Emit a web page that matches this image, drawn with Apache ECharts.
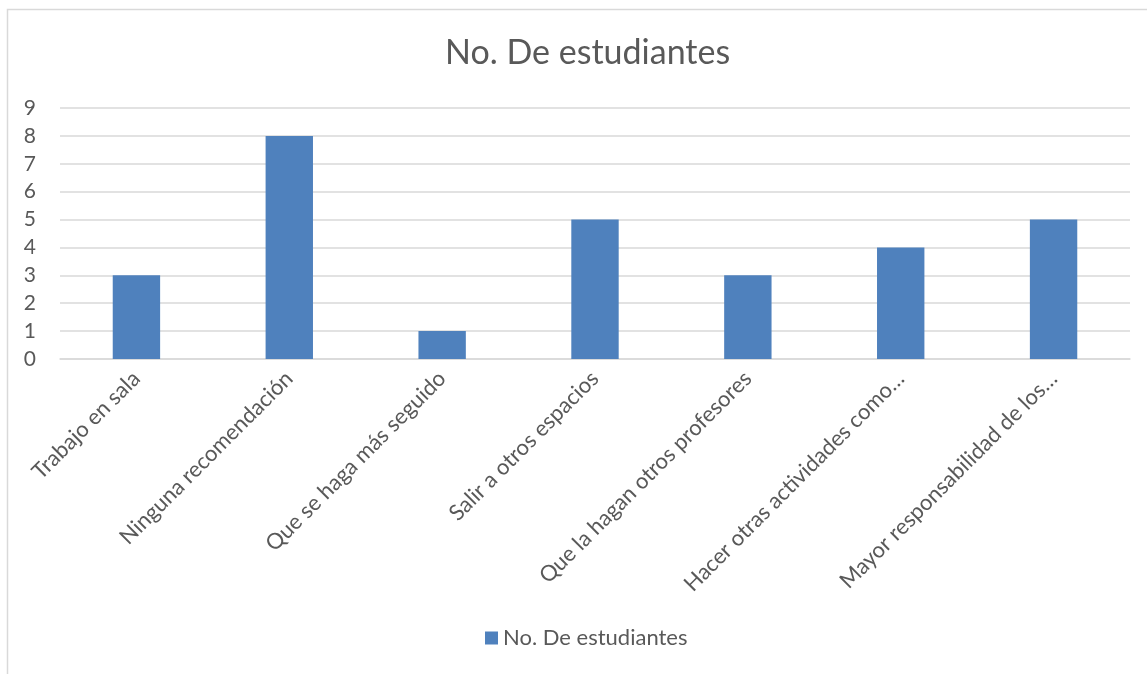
<!DOCTYPE html>
<html>
<head>
<meta charset="utf-8">
<script src="https://cdn.jsdelivr.net/npm/echarts@6/dist/echarts.min.js"></script>
<style>
  html, body { margin: 0; padding: 0; background: #ffffff; }
  #chart { width: 1147px; height: 674px; }
</style>
</head>
<body>
<div id="chart"></div>
<script>
// Recommendations given by students and how many gave each one
const categories = [
  'Trabajo en sala',
  'Ninguna recomendación',
  'Que se haga más seguido',
  'Salir a otros espacios',
  'Que la hagan otros profesores',
  'Hacer otras actividades como…',
  'Mayor responsabilidad de los…'
];
const studentCounts = [3, 8, 1, 5, 3, 4, 5];
const seriesName = 'No. De estudiantes';
const yTicks = { min: 0, max: 9, interval: 1 };

const FONT = 'Lato, "Open Sans", sans-serif';
const TEXT = '#595959';
const BAR = '#4f81bd';

const chart = echarts.init(document.getElementById('chart'), null, { renderer: 'canvas' });
chart.setOption({
  animation: false,
  backgroundColor: '#ffffff',
  textStyle: { fontFamily: FONT },
  graphic: [{
    type: 'rect',
    shape: { x: 7.5, y: 9.5, width: 1200, height: 700 },
    style: { fill: 'none', stroke: '#d9d9d9', lineWidth: 1.5 },
    silent: true,
    z: -1
  }],
  title: {
    text: seriesName,
    left: 440,
    top: 31,
    textStyle: { fontFamily: FONT, fontSize: 34, fontWeight: 'normal', color: TEXT }
  },
  legend: {
    data: [seriesName],
    bottom: 20,
    left: 480,
    itemWidth: 13,
    itemHeight: 13,
    icon: 'rect',
    itemGap: 6,
    textStyle: { fontFamily: FONT, fontSize: 22, color: TEXT }
  },
  grid: { left: 60, right: 17, top: 108, bottom: 315, containLabel: false },
  xAxis: {
    type: 'category',
    data: categories,
    axisLine: { show: true, lineStyle: { color: '#d9d9d9', width: 1.5 } },
    axisTick: { show: false },
    axisLabel: {
      interval: 0,
      rotate: 45,
      margin: 16,
      fontFamily: FONT,
      fontSize: 22,
      color: TEXT
    }
  },
  yAxis: {
    type: 'value',
    min: yTicks.min,
    max: yTicks.max,
    interval: yTicks.interval,
    axisLine: { show: false },
    axisTick: { show: false },
    splitLine: { lineStyle: { color: '#d9d9d9', width: 1.5 } },
    axisLabel: { fontFamily: FONT, fontSize: 21, color: TEXT, margin: 24 }
  },
  series: [{
    name: seriesName,
    type: 'bar',
    data: studentCounts,
    barWidth: '31%',
    itemStyle: { color: BAR }
  }]
});
</script>
</body>
</html>
